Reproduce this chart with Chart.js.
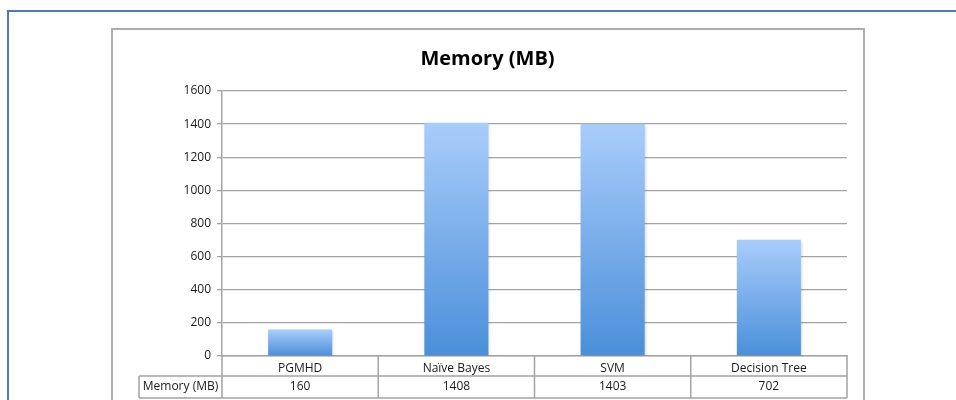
<!DOCTYPE html>
<html>
<head>
<meta charset="utf-8">
<script src="https://cdn.jsdelivr.net/npm/chart.js@4.4.1/dist/chart.umd.min.js"></script>
<style>
    html, body { margin: 0; padding: 0; background: #fff; }
    body { width: 956px; height: 400px; position: relative; overflow: hidden; }
    .outer { position: absolute; left: 7px; top: 10px; width: 1000px; height: 500px; border: 2px solid #4E7BB8; box-sizing: border-box; }
    .frame { position: absolute; left: 111px; top: 28px; width: 754px; height: 500px; border: 2px solid #ADADAD; box-sizing: border-box; }
    #memChart { position: absolute; left: 0; top: 0; }
</style>
</head>
<body>
<div class="outer"></div>
<div class="frame"></div>
<canvas id="memChart" width="956" height="400"></canvas>
<script>
const categories = ['PGMHD', 'Naïve Bayes', 'SVM', 'Decision Tree'];
const seriesName = 'Memory (MB)';
const memoryValues = [160, 1408, 1403, 702];
const yTicks = [0, 200, 400, 600, 800, 1000, 1200, 1400, 1600];

const FONT = "'Open Sans', 'DejaVu Sans', sans-serif";
const gridColor = '#A3A3A3';
const barTop = '#A9CDFB';
const barBottom = '#4A8FD9';

// table under the plot: header row holds category names, second row the values
const tableLeft = 139;
const row1 = 20;
const row2 = 22;

const barShadow = {
    id: 'barShadow',
    beforeDatasetsDraw(chart) {
        const c = chart.ctx;
        c.save();
        c.shadowColor = 'rgba(0,0,0,0.22)';
        c.shadowBlur = 3;
        c.shadowOffsetX = 1;
        c.shadowOffsetY = 1;
    },
    afterDatasetsDraw(chart) {
        chart.ctx.restore();
    }
};

const dataTable = {
    id: 'dataTable',
    afterDraw(chart) {
        const c = chart.ctx;
        const x = chart.scales.x;
        const area = chart.chartArea;
        const top = area.bottom;
        const mid = top + row1;
        const bot = mid + row2;

        const edges = [area.left];
        for (let i = 0; i < categories.length - 1; i++) {
            edges.push((x.getPixelForValue(i) + x.getPixelForValue(i + 1)) / 2);
        }
        edges.push(area.right);

        c.save();
        c.strokeStyle = gridColor;
        c.lineWidth = 1.5;
        c.beginPath();
        c.moveTo(tableLeft, mid); c.lineTo(area.right, mid);
        c.moveTo(tableLeft, bot); c.lineTo(area.right, bot);
        c.moveTo(tableLeft, mid); c.lineTo(tableLeft, bot);
        edges.forEach(e => { c.moveTo(e, top); c.lineTo(e, bot); });
        c.stroke();

        c.fillStyle = '#1a1a1a';
        c.font = '12px ' + FONT;
        c.textAlign = 'center';
        c.textBaseline = 'middle';
        const ty = mid + row2 / 2;
        c.fillText(seriesName, (tableLeft + area.left) / 2, ty);
        memoryValues.forEach((v, i) => c.fillText(String(v), x.getPixelForValue(i), ty));
        c.restore();
    }
};

new Chart(document.getElementById('memChart'), {
    type: 'bar',
    data: {
        labels: categories,
        datasets: [{
            label: seriesName,
            data: memoryValues,
            backgroundColor: (ctx) => {
                const chart = ctx.chart;
                if (!chart.chartArea || ctx.type !== 'data') return barBottom;
                const y = chart.scales.y;
                const g = chart.ctx.createLinearGradient(0, y.getPixelForValue(ctx.parsed.y), 0, y.getPixelForValue(0));
                g.addColorStop(0, barTop);
                g.addColorStop(1, barBottom);
                return g;
            },
            borderWidth: 0,
            categoryPercentage: 1,
            barPercentage: 0.41
        }]
    },
    options: {
        responsive: false,
        animation: false,
        layout: { padding: { left: 111, right: 92, top: 0, bottom: 0 } },
        plugins: {
            legend: { display: false },
            tooltip: { enabled: false },
            title: {
                display: true,
                text: 'Memory (MB)',
                color: '#000',
                font: { family: FONT, size: 20, weight: 'bold', lineHeight: 1.2 },
                padding: { top: 47, bottom: 20 }
            }
        },
        scales: {
            x: {
                grid: { display: false, drawTicks: false },
                border: { display: true, color: gridColor, width: 1.5 },
                ticks: { color: '#1a1a1a', font: { family: FONT, size: 12 }, padding: 5, maxRotation: 0, autoSkip: false },
                afterFit: (s) => { s.height = 44; }
            },
            y: {
                min: yTicks[0],
                max: yTicks[yTicks.length - 1],
                afterBuildTicks: (s) => { s.ticks = yTicks.map(v => ({ value: v })); },
                grid: { color: gridColor, lineWidth: 1.3, tickLength: 5, tickColor: gridColor },
                border: { display: true, color: gridColor, width: 1.5 },
                ticks: { color: '#1a1a1a', font: { family: FONT, size: 12 }, padding: 6, callback: (v) => String(v) },
                afterFit: (s) => { s.width = 111; }
            },
            yRight: {
                position: 'right',
                display: true,
                grid: { display: false, drawTicks: false },
                border: { display: false },
                ticks: { display: false },
                afterFit: (s) => { s.width = 17; }
            }
        }
    },
    plugins: [barShadow, dataTable]
});
</script>
</body>
</html>
